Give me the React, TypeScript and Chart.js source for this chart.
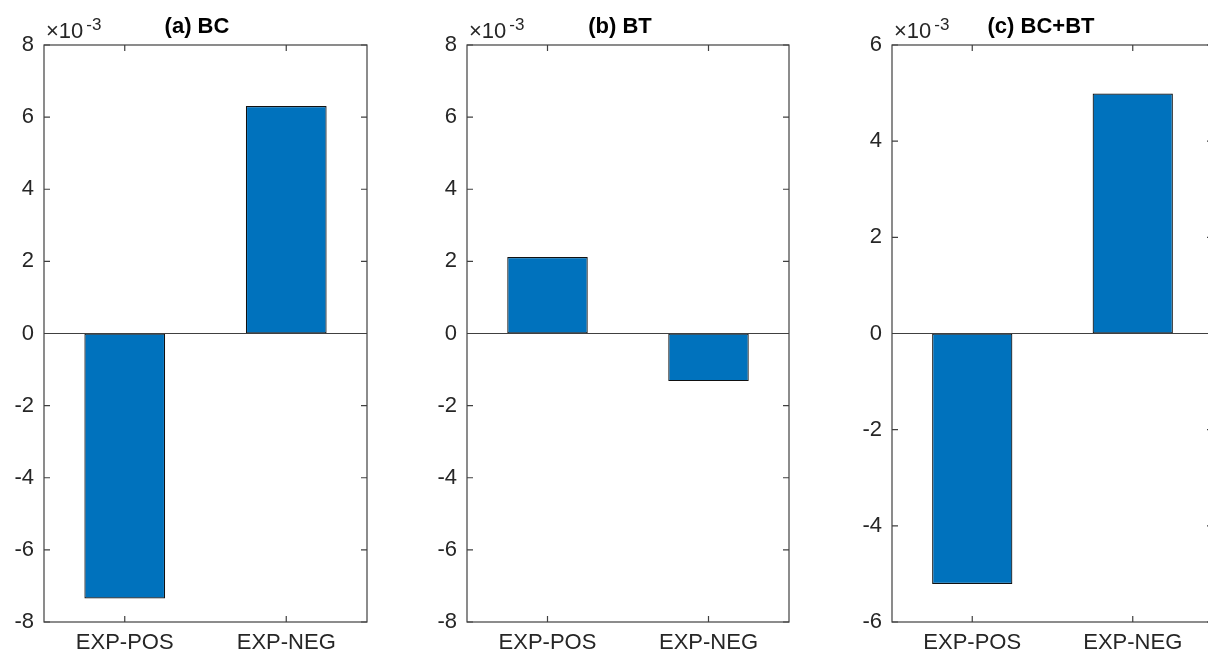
import React, { useEffect, useRef } from "react";
import { Chart, registerables } from "chart.js";

Chart.register(...registerables);

const categories = ["EXP-POS", "EXP-NEG"];
const bcValues = [-7.35e-3, 6.31e-3];
const btValues = [2.12e-3, -1.32e-3];
const bcbtValues = [-5.21e-3, 4.99e-3];
const panelTitles = ["(a) BC", "(b) BT", "(c) BC+BT"];
const yMinA = -8e-3, yMaxA = 8e-3;
const yMinB = -8e-3, yMaxB = 8e-3;
const yMinC = -6e-3, yMaxC = 6e-3;
const yStep = 2e-3;
const exponentText = "-3";

const AXIS_COLOR = "#262626";
const LINE_COLOR = "#404040";
const BAR_COLOR = "#0072BD";
const FONT = "'Liberation Sans', Arial, Helvetica, sans-serif";

type Panel = {
  title: string;
  values: number[];
  min: number;
  max: number;
  left: number;
  canvasWidth: number;
  yAxisWidth: number;
  chartWidth: number;
  titleOffset: number;
};

const panels: Panel[] = [
  { title: panelTitles[0], values: bcValues, min: yMinA, max: yMaxA, left: 0, canvasWidth: 400, yAxisWidth: 44, chartWidth: 323, titleOffset: 153 },
  { title: panelTitles[1], values: btValues, min: yMinB, max: yMaxB, left: 400, canvasWidth: 420, yAxisWidth: 67, chartWidth: 322, titleOffset: 153 },
  { title: panelTitles[2], values: bcbtValues, min: yMinC, max: yMaxC, left: 840, canvasWidth: 400, yAxisWidth: 52, chartWidth: 321, titleOffset: 149 },
];

const HEIGHT = 653;
const TOP = 45;
const XAXIS_H = 31;
const TICK_LEN = 6;

function makeDecorPlugin(panel: Panel) {
  return {
    id: "matlabDecor",
    afterDraw(chart: any) {
      const ctx = chart.ctx as CanvasRenderingContext2D;
      const { left, right, top, bottom } = chart.chartArea;
      const xs = chart.scales.x;
      const ys = chart.scales.y;
      ctx.save();
      ctx.strokeStyle = LINE_COLOR;
      ctx.lineWidth = 1.2;
      const y0 = ys.getPixelForValue(0);
      ctx.beginPath();
      ctx.moveTo(left, y0);
      ctx.lineTo(right, y0);
      ctx.stroke();
      ctx.strokeRect(left, top, right - left, bottom - top);
      ctx.beginPath();
      ys.ticks.forEach((t: any) => {
        const py = ys.getPixelForValue(t.value);
        ctx.moveTo(left, py);
        ctx.lineTo(left + TICK_LEN, py);
        ctx.moveTo(right, py);
        ctx.lineTo(right - TICK_LEN, py);
      });
      xs.ticks.forEach((_t: any, i: number) => {
        const px = xs.getPixelForTick(i);
        ctx.moveTo(px, bottom);
        ctx.lineTo(px, bottom - TICK_LEN);
        ctx.moveTo(px, top);
        ctx.lineTo(px, top + TICK_LEN);
      });
      ctx.stroke();
      ctx.fillStyle = AXIS_COLOR;
      ctx.textAlign = "left";
      ctx.textBaseline = "alphabetic";
      ctx.font = `22px ${FONT}`;
      const base = "\u00d710";
      const bx = left + 2;
      ctx.fillText(base, bx, top - 7);
      const w = ctx.measureText(base).width;
      ctx.font = `17px ${FONT}`;
      ctx.fillText(exponentText, bx + w + 3, top - 15);
      ctx.fillStyle = "#000000";
      ctx.font = `bold 22px ${FONT}`;
      ctx.textAlign = "center";
      ctx.fillText(panel.title, left + panel.titleOffset, 33);
      ctx.restore();
    },
  };
}

function PanelChart({ panel }: { panel: Panel }) {
  const ref = useRef<HTMLCanvasElement | null>(null);
  useEffect(() => {
    if (!ref.current) return;
    const padRight = panel.canvasWidth - panel.yAxisWidth - panel.chartWidth;
    const chart = new Chart(ref.current, {
      type: "bar",
      data: {
        labels: categories,
        datasets: [
          {
            data: panel.values,
            backgroundColor: BAR_COLOR,
            borderColor: "#111111",
            borderWidth: 1.2,
            borderSkipped: false,
            categoryPercentage: 1,
            barPercentage: 0.5,
          },
        ],
      },
      options: {
        responsive: false,
        animation: false,
        devicePixelRatio: 1,
        layout: { padding: { top: TOP, left: 0, right: padRight, bottom: 0 } },
        plugins: { legend: { display: false }, tooltip: { enabled: false }, title: { display: false } },
        scales: {
          x: {
            offset: true,
            grid: { display: false, drawTicks: false },
            border: { display: false },
            ticks: { color: AXIS_COLOR, padding: 8, font: { family: FONT, size: 22 } },
            afterFit: (s: any) => { s.height = XAXIS_H; },
          },
          y: {
            min: panel.min,
            max: panel.max,
            grid: { display: false, drawTicks: false },
            border: { display: false },
            ticks: {
              stepSize: yStep,
              color: AXIS_COLOR,
              padding: 10,
              font: { family: FONT, size: 22 },
              callback: (v: any) => String(Math.round(Number(v) * 1000)),
            },
            afterFit: (s: any) => { s.width = panel.yAxisWidth; },
          },
        },
      },
      plugins: [makeDecorPlugin(panel)],
    });
    return () => chart.destroy();
  }, [panel]);
  return (
    <div style={{ position: "absolute", left: panel.left, top: 0, width: panel.canvasWidth, height: HEIGHT }}>
      <canvas ref={ref} width={panel.canvasWidth} height={HEIGHT} style={{ display: "block" }} />
    </div>
  );
}

export default function App() {
  return (
    <div style={{ position: "fixed", left: 0, top: 0, width: 1208, height: HEIGHT, overflow: "hidden", background: "#ffffff" }}>
      {panels.map((p) => (
        <PanelChart key={p.title} panel={p} />
      ))}
    </div>
  );
}
